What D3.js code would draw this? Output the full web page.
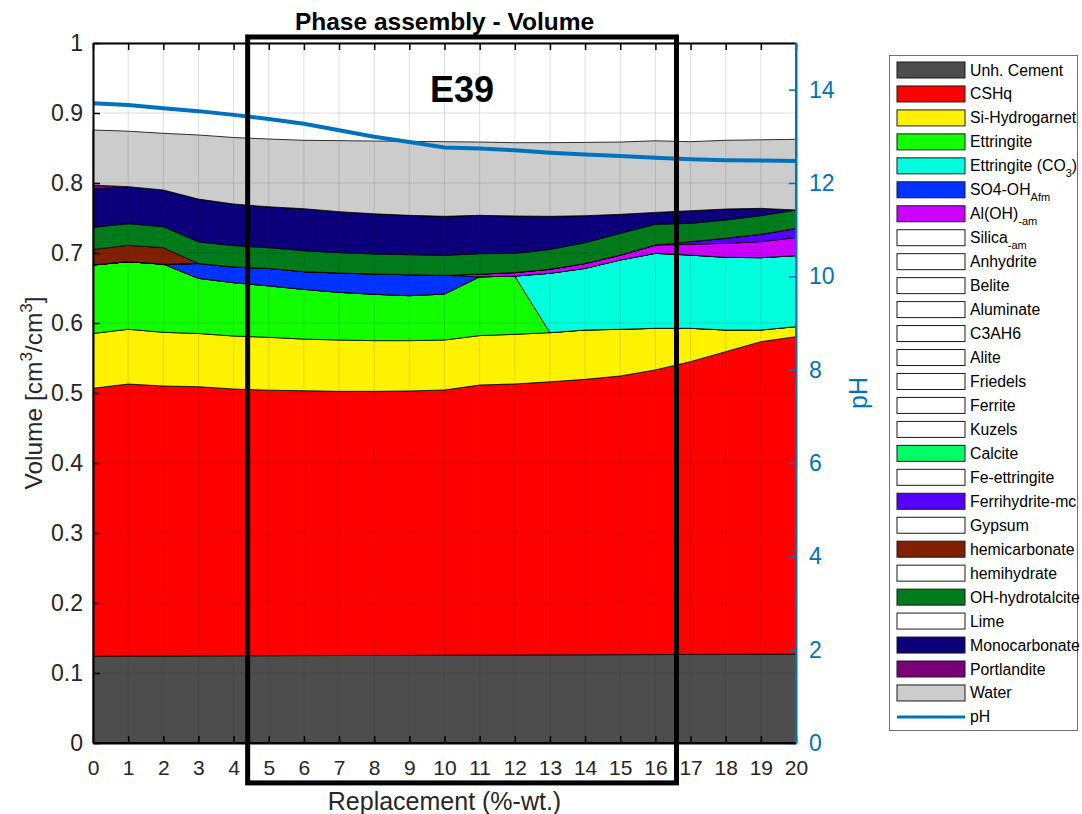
<!DOCTYPE html>
<html><head><meta charset="utf-8">
<script src="https://cdn.jsdelivr.net/npm/d3@7"></script>
<style>
body{margin:0;background:#fff;}
text{font-family:"Liberation Sans",Arial,Helvetica,sans-serif;}
</style>
</head><body>
<svg id="c" width="1082" height="814"></svg>
<script>
// ---------------- DATA ----------------
const replacement = [0,1,2,3,4,5,6,7,8,9,10,11,12,13,14,15,16,17,18,19,20];
const unhCement      = [0.124,0.1241,0.1243,0.1244,0.1246,0.1247,0.1249,0.125,0.1252,0.1253,0.1255,0.1256,0.1257,0.1259,0.126,0.1262,0.1263,0.1265,0.1266,0.1268,0.127];
const cshq           = [0.3827,0.3887,0.3857,0.3846,0.3811,0.3793,0.3784,0.3774,0.3772,0.3776,0.3788,0.3858,0.3872,0.3901,0.3935,0.3981,0.4067,0.4183,0.4324,0.4465,0.4535];
const siHydrogarnet  = [0.0783,0.0782,0.0767,0.076,0.0757,0.0755,0.0737,0.0733,0.0724,0.0719,0.0714,0.0706,0.0709,0.0702,0.0705,0.0667,0.0594,0.0476,0.031,0.0167,0.0143];
const ettringite     = [0.0979,0.0966,0.0973,0.0788,0.0762,0.0735,0.071,0.0681,0.0662,0.0642,0.0657,0.084,0.0832,0,0,0,0,0,0,0,0];
const ettringiteCO3  = [0,0,0,0,0,0,0,0,0,0,0,0,0,0.0848,0.088,0.099,0.1071,0.1046,0.1038,0.1033,0.1014];
const so4ohAfm       = [0,0,0,0.0212,0.0224,0.025,0.0253,0.0276,0.029,0.03,0.0266,0,0,0,0,0,0,0,0,0,0];
const alOHam         = [0,0,0,0,0,0,0,0,0,0,0,0.0038,0.005,0.0057,0.007,0.007,0.0119,0.0154,0.02,0.0229,0.0258];
const ferrihydrite   = [0,0,0,0,0,0,0,0,0,0,0,0,0,0,0,0,0,0.0038,0.0072,0.0105,0.013];
const hemicarbonate  = [0.0221,0.0233,0.0236,0,0,0,0,0,0,0,0,0,0,0,0,0,0,0,0,0,0];
const ohHydrotalcite = [0.0317,0.031,0.03,0.031,0.0305,0.0296,0.03,0.0291,0.0286,0.0286,0.0287,0.0292,0.0275,0.0283,0.0298,0.031,0.0296,0.0262,0.0261,0.0266,0.0264];
const monocarbonate  = [0.0547,0.0529,0.0524,0.061,0.0595,0.0584,0.06,0.0585,0.0574,0.0562,0.0557,0.0548,0.0534,0.0474,0.0385,0.0272,0.017,0.018,0.0157,0.0105,0];
const portlandite    = [0.0056,0,0,0,0,0,0,0,0,0,0,0,0,0,0,0,0,0,0,0,0];
const water          = [0.0787,0.0792,0.081,0.0916,0.095,0.0968,0.0977,0.1015,0.104,0.1057,0.1066,0.1047,0.1047,0.1052,0.1047,0.1033,0.1023,0.0986,0.0982,0.0979,0.101];
const pH             = [13.71,13.67,13.6,13.54,13.46,13.37,13.27,13.13,12.99,12.88,12.76,12.74,12.7,12.65,12.61,12.58,12.54,12.51,12.49,12.48,12.47];

const volumeTicks = [0,0.1,0.2,0.3,0.4,0.5,0.6,0.7,0.8,0.9,1];
const pHTicks = [0,2,4,6,8,10,12,14];

// stacked phases (bottom to top)
const stackKeys   = ["Unh. Cement","CSHq","Si-Hydrogarnet","Ettringite","Ettringite (CO3)","SO4-OH Afm","Al(OH) -am","Ferrihydrite-mc","hemicarbonate","OH-hydrotalcite","Monocarbonate","Portlandite","Water"];
const stackSeries = [unhCement,cshq,siHydrogarnet,ettringite,ettringiteCO3,so4ohAfm,alOHam,ferrihydrite,hemicarbonate,ohHydrotalcite,monocarbonate,portlandite,water];
const stackColors = ["#4d4d4d","#ff0000","#fff200","#11ff00","#00ffdd","#0033ff","#cc00ff","#5500ff","#802000","#007a1a","#0b0079","#7a0078","#cccccc"];

// legend entries: main text, subscript, tail, colour
const legendNames = ["Unh. Cement","CSHq","Si-Hydrogarnet","Ettringite","Ettringite (CO","SO4-OH","Al(OH)","Silica","Anhydrite","Belite","Aluminate","C3AH6","Alite","Friedels","Ferrite","Kuzels","Calcite","Fe-ettringite","Ferrihydrite-mc","Gypsum","hemicarbonate","hemihydrate","OH-hydrotalcite","Lime","Monocarbonate","Portlandite","Water","pH"];
const legendSubs  = ["","","","","3","Afm","-am","-am","","","","","","","","","","","","","","","","","","","",""];
const legendTail  = ["","","","",")","","","","","","","","","","","","","","","","","","","","","","",""];
const legendColors= ["#4d4d4d","#ff0000","#fff200","#11ff00","#00ffdd","#0033ff","#cc00ff","#ffffff","#ffffff","#ffffff","#ffffff","#ffffff","#ffffff","#ffffff","#ffffff","#ffffff","#00ff66","#ffffff","#5500ff","#ffffff","#802000","#ffffff","#007a1a","#ffffff","#0b0079","#7a0078","#cccccc","#0072bd"];

// ---------------- LAYOUT ----------------
const svg = d3.select("#c");
const L = 93, R = 796, T = 43, B = 743;
const x = d3.scaleLinear().domain([0,20]).range([L,R]);
const y = d3.scaleLinear().domain([0,1]).range([B,T]);
const yP = d3.scaleLinear().domain([0,15]).range([B,T]);
const blue = "#0072bd";
const colorScale = d3.scaleOrdinal().domain(stackKeys).range(stackColors);

const table = replacement.map((r,i)=>{
  const o = {x:r};
  stackKeys.forEach((k,j)=>{ o[k] = stackSeries[j][i]; });
  return o;
});
const stacked = d3.stack().keys(stackKeys)(table);

const area = d3.area().x(d=>x(d.data.x)).y0(d=>y(d[0])).y1(d=>y(d[1]));
svg.append("g").selectAll("path").data(stacked).join("path")
  .attr("d", area)
  .attr("fill", d=>colorScale(d.key))
  .attr("stroke", "#000").attr("stroke-width", 0.8).attr("stroke-linejoin","round");

// grid (on top of areas, like MATLAB)
const grid = svg.append("g").attr("stroke","#262626").attr("stroke-opacity",0.15).attr("stroke-width",1);
replacement.forEach(v=>grid.append("line").attr("x1",x(v)).attr("x2",x(v)).attr("y1",T).attr("y2",B));
volumeTicks.forEach(v=>grid.append("line").attr("x1",L).attr("x2",R).attr("y1",y(v)).attr("y2",y(v)));

// pH line
svg.append("path").datum(replacement.map((r,i)=>[r,pH[i]]))
  .attr("d", d3.line().x(d=>x(d[0])).y(d=>yP(d[1])))
  .attr("fill","none").attr("stroke",blue).attr("stroke-width",4).attr("stroke-linejoin","round");

// axes
function styleAxis(g, col, fs){
  g.selectAll(".domain").attr("stroke",col).attr("stroke-width",2);
  g.selectAll(".tick line").attr("stroke",col).attr("stroke-width",1.5);
  g.selectAll(".tick text").attr("fill", col==="#000"?"#262626":col).style("font-size",fs+"px").style("font-family","'Liberation Sans',Arial,sans-serif");
}
const gxB = svg.append("g").attr("transform",`translate(0,${B})`)
  .call(d3.axisBottom(x).tickValues(replacement).tickFormat(d3.format("d")).tickSize(-7).tickPadding(17).tickSizeOuter(0));
styleAxis(gxB,"#000",21);
const gxT = svg.append("g").attr("transform",`translate(0,${T})`)
  .call(d3.axisTop(x).tickValues(replacement).tickFormat("").tickSize(-7).tickSizeOuter(0));
styleAxis(gxT,"#000",21);
const gyL = svg.append("g").attr("transform",`translate(${L},0)`)
  .call(d3.axisLeft(y).tickValues(volumeTicks).tickFormat(d=>d3.format("")(+d.toFixed(1))).tickSize(-7).tickPadding(10).tickSizeOuter(0));
styleAxis(gyL,"#000",23);
const gyR = svg.append("g").attr("transform",`translate(${R},0)`)
  .call(d3.axisRight(yP).tickValues(pHTicks).tickSize(-7).tickPadding(13).tickSizeOuter(0));
styleAxis(gyR,blue,23);
svg.append("line").attr("x1",L).attr("x2",R).attr("y1",B).attr("y2",B).attr("stroke","#000").attr("stroke-width",2);
svg.append("line").attr("x1",R).attr("x2",R).attr("y1",T).attr("y2",B).attr("stroke",blue).attr("stroke-width",2);

// labels
svg.append("text").attr("x",(L+R)/2).attr("y",30).attr("text-anchor","middle")
  .style("font-weight","bold").style("font-size","24.5px").attr("fill","#000").text("Phase assembly - Volume");
svg.append("text").attr("x",(L+R)/2).attr("y",810).attr("text-anchor","middle")
  .style("font-size","25px").attr("fill","#262626").text("Replacement (%-wt.)");
const yl = svg.append("text").attr("transform",`translate(42,${(T+B)/2}) rotate(-90)`).attr("text-anchor","middle")
  .style("font-size","24.5px").attr("fill","#262626");
yl.append("tspan").text("Volume [cm");
yl.append("tspan").attr("dy",-10).style("font-size","17px").text("3");
yl.append("tspan").attr("dy",10).text("/cm");
yl.append("tspan").attr("dy",-10).style("font-size","17px").text("3");
yl.append("tspan").attr("dy",10).text("]");
svg.append("text").attr("transform",`translate(867,${(T+B)/2}) rotate(-90)`).attr("text-anchor","middle")
  .style("font-size","25px").attr("fill",blue).text("pH");

// E39 annotation and box
svg.append("text").attr("x",462).attr("y",102).attr("text-anchor","middle")
  .style("font-weight","bold").style("font-size","36px").attr("fill","#000").text("E39");
const boxX = [4.4, 16.6], boxY = [-0.057, 1.0086];
svg.append("rect").attr("x",x(boxX[0])).attr("y",y(boxY[1])).attr("width",x(boxX[1])-x(boxX[0])).attr("height",y(boxY[0])-y(boxY[1]))
  .attr("fill","none").attr("stroke","#000").attr("stroke-width",5);

// legend
const lg = svg.append("g");
lg.append("rect").attr("x",889.5).attr("y",55.5).attr("width",188).attr("height",675).attr("fill","#fff").attr("stroke","#707070").attr("stroke-width",1);
legendNames.forEach((n,i)=>{
  const cy = 70 + i*23.96;
  if (n==="pH"){
    lg.append("line").attr("x1",897).attr("x2",965).attr("y1",cy).attr("y2",cy).attr("stroke",blue).attr("stroke-width",3);
  } else {
    lg.append("rect").attr("x",897).attr("y",cy-8).attr("width",68).attr("height",16)
      .attr("fill",legendColors[i]).attr("stroke","#1a1a1a").attr("stroke-width",1);
  }
  const t = lg.append("text").attr("x",970).attr("y",cy+5.5).style("font-size","15.8px").attr("fill","#000");
  t.append("tspan").text(n);
  if (legendSubs[i]){
    t.append("tspan").attr("dy",6).style("font-size","11px").text(legendSubs[i]);
    if (legendTail[i]) t.append("tspan").attr("dy",-6).text(legendTail[i]);
  }
});
</script>
</body></html>
